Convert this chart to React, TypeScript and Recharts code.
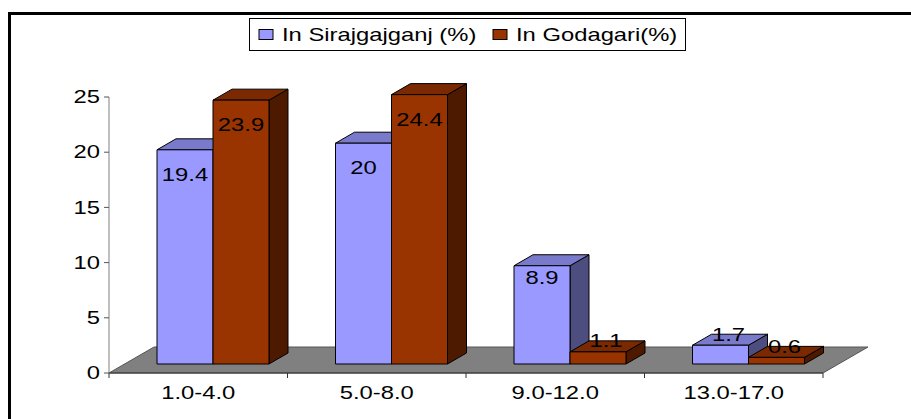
import React from 'react';
import { BarChart, Bar, XAxis, YAxis, Legend, LabelList, ReferenceArea } from 'recharts';

const categories = ['1.0-4.0', '5.0-8.0', '9.0-12.0', '13.0-17.0'];
const sirajgajganj = [19.4, 20, 8.9, 1.7];
const godagari = [23.9, 24.4, 1.1, 0.6];
const yTicks = [0, 5, 10, 15, 20, 25];

const seriesNames = ['In Sirajgajganj (%)', 'In Godagari(%)'];

const data = categories.map((cat, i) => ({
  cat,
  siraj: sirajgajganj[i],
  goda: godagari[i],
}));

// the original picture is stretched sideways, so text gets widened too
const FONT = '"Liberation Sans", Arial, sans-serif';
const FS = 17.5;
const SX = 1.36;

// 3d look
const SHIFT_X = 15;
const SHIFT_Y = 9;
const DEPTH_X = 19;
const DEPTH_Y = 11;
const FLOOR_X = 45;
const FLOOR_Y = 26;

const blue = { front: '#9999FF', top: '#7A7ACC', side: '#4D4D80' };
const red = { front: '#993300', top: '#7A2900', side: '#4D1A00' };

const WideText = ({ x, y, anchor, children }: any) => (
  <g transform={`translate(${x},${y}) scale(${SX},1)`}>
    <text x={0} y={0} textAnchor={anchor} dominantBaseline="central" fontFamily={FONT} fontSize={FS} fill="#000">
      {children}
    </text>
  </g>
);

const makeBox = (c: typeof blue) => (props: any) => {
  const { x, y, width, height } = props;
  if (width == null || height == null) return <g />;
  const fx = x + SHIFT_X;
  const fy = y - SHIFT_Y;
  const w = width;
  const h = height;
  return (
    <g stroke="#000" strokeWidth={1} strokeLinejoin="round">
      <polygon
        points={`${fx + w},${fy} ${fx + w + DEPTH_X},${fy - DEPTH_Y} ${fx + w + DEPTH_X},${fy + h - DEPTH_Y} ${fx + w},${fy + h}`}
        fill={c.side}
      />
      <polygon
        points={`${fx},${fy} ${fx + DEPTH_X},${fy - DEPTH_Y} ${fx + w + DEPTH_X},${fy - DEPTH_Y} ${fx + w},${fy}`}
        fill={c.top}
      />
      <rect x={fx} y={fy} width={w} height={h} fill={c.front} />
    </g>
  );
};

const BarLabel = (props: any) => {
  const { x, y, width, height, value } = props;
  const fx = x + SHIFT_X;
  const fy = y - SHIFT_Y;
  if (height > 30) {
    const off = Math.min(25, height * 0.12);
    return <WideText x={fx + width / 2} y={fy + off} anchor="middle">{value}</WideText>;
  }
  return <WideText x={fx + width / 2 + 8} y={fy - 11} anchor="middle">{value}</WideText>;
};

const Floor = (props: any) => {
  const { x, y, width, height } = props;
  const b = y + height;
  const n = categories.length;
  return (
    <g>
      <polygon
        points={`${x},${b} ${x + FLOOR_X},${b - FLOOR_Y} ${x + width + FLOOR_X},${b - FLOOR_Y} ${x + width},${b}`}
        fill="#808080"
        stroke="#555"
        strokeWidth={1}
      />
      {Array.from({ length: n + 1 }, (_, i) => (
        <line key={i} x1={x + (i * width) / n} x2={x + (i * width) / n} y1={b} y2={b + 5} stroke="#333" />
      ))}
    </g>
  );
};

const XTick = (props: any) => {
  const { x, y, payload } = props;
  return <WideText x={x} y={y + 20} anchor="middle">{payload.value}</WideText>;
};

const YTick = (props: any) => {
  const { x, y, payload } = props;
  return <WideText x={x - 2} y={y} anchor="end">{payload.value}</WideText>;
};

const LegendBox = () => {
  const items = [
    { name: seriesNames[0], color: blue.front, at: 10 },
    { name: seriesNames[1], color: red.front, at: 244 },
  ];
  return (
    <svg width={437} height={33} style={{ display: 'block' }}>
      <rect x={0.5} y={0.5} width={436} height={32} fill="#fff" stroke="#000" />
      {items.map((it) => (
        <g key={it.name}>
          <rect x={it.at} y={11.5} width={14} height={10} fill={it.color} stroke="#000" />
          <WideText x={it.at + 23} y={16.5} anchor="start">{it.name}</WideText>
        </g>
      ))}
    </svg>
  );
};

export default function App() {
  return (
    <div style={{ position: 'absolute', left: 0, top: 0, width: 911, height: 419, overflow: 'hidden', background: '#fff' }}>
      <div
        style={{
          position: 'absolute',
          left: 8,
          top: 12,
          width: 1200,
          height: 800,
          border: '3px solid #000',
        }}
      />
      <div style={{ position: 'absolute', left: 0, top: 0 }}>
        <BarChart
          width={911}
          height={419}
          data={data}
          margin={{ top: 64, right: 88, left: 49, bottom: 16 }}
          barGap={0}
        >
          <ReferenceArea y1={0} y2={25} shape={Floor} ifOverflow="visible" />
          <XAxis
            dataKey="cat"
            height={30}
            tickLine={false}
            tickSize={0}
            tickMargin={0}
            axisLine={{ stroke: '#333' }}
            tick={<XTick />}
            interval={0}
          />
          <YAxis
            width={60}
            domain={[0, 25]}
            ticks={yTicks}
            axisLine={{ stroke: '#808080' }}
            tickLine={{ stroke: '#555' }}
            tickSize={5}
            tick={<YTick />}
          />
          <Legend
            verticalAlign="top"
            content={() => <LegendBox />}
            wrapperStyle={{ position: 'absolute', left: 249, top: 18, width: 437, height: 33 }}
          />
          <Bar dataKey="siraj" name={seriesNames[0]} barSize={56} fill={blue.front} shape={makeBox(blue)} isAnimationActive={false}>
            <LabelList dataKey="siraj" content={<BarLabel />} />
          </Bar>
          <Bar dataKey="goda" name={seriesNames[1]} barSize={56} fill={red.front} shape={makeBox(red)} isAnimationActive={false}>
            <LabelList dataKey="goda" content={<BarLabel />} />
          </Bar>
        </BarChart>
      </div>
    </div>
  );
}
